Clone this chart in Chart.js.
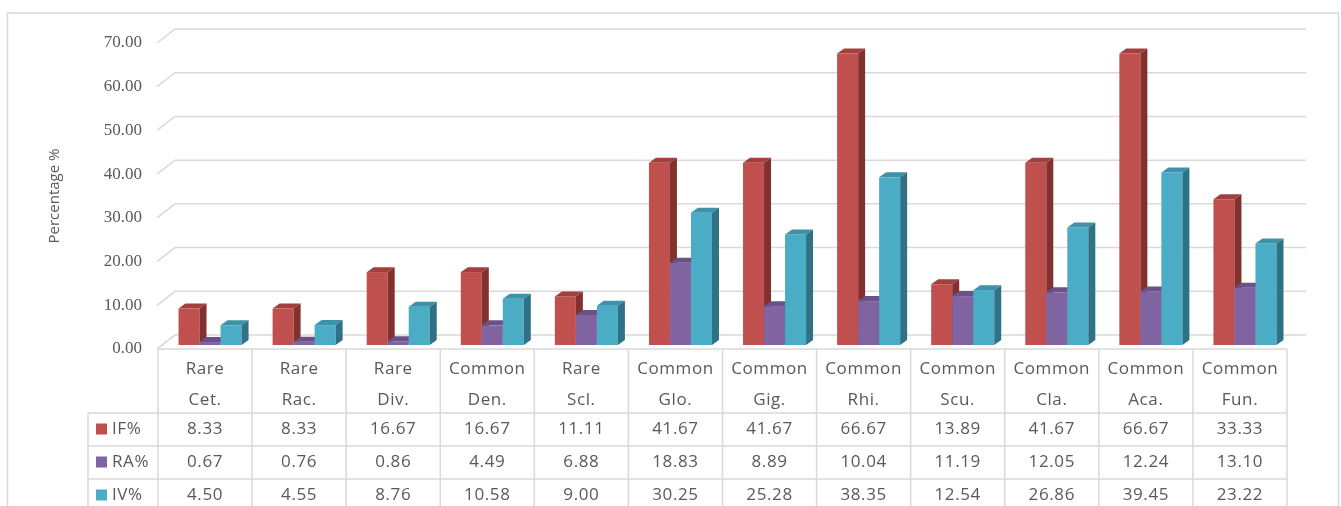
<!DOCTYPE html>
<html>
<head>
<meta charset="utf-8">
<script src="https://cdn.jsdelivr.net/npm/chart.js@4/dist/chart.umd.min.js"></script>
<style>
html,body{margin:0;padding:0;background:#fff;}
#wrap{position:relative;width:1341px;height:506px;}
</style>
</head>
<body>
<div id="wrap"><canvas id="c" width="1341" height="506"></canvas></div>
<script>
const categoryTop = ['Rare','Rare','Rare','Common','Rare','Common','Common','Common','Common','Common','Common','Common'];
const categoryBottom = ['Cet.','Rac.','Div.','Den.','Scl.','Glo.','Gig.','Rhi.','Scu.','Cla.','Aca.','Fun.'];
const seriesNames = ['IF%','RA%','IV%'];
const ifValues = [8.33, 8.33, 16.67, 16.67, 11.11, 41.67, 41.67, 66.67, 13.89, 41.67, 66.67, 33.33];
const raValues = [0.67, 0.76, 0.86, 4.49, 6.88, 18.83, 8.89, 10.04, 11.19, 12.05, 12.24, 13.10];
const ivValues = [4.50, 4.55, 8.76, 10.58, 9.00, 30.25, 25.28, 38.35, 12.54, 26.86, 39.45, 23.22];
const yTicks = [0, 10, 20, 30, 40, 50, 60, 70];

const frontColors = ['#C0504D', '#8064A2', '#4BACC6'];
const topColors = ['#A33F3C', '#6A5289', '#3D92A9'];
const sideColors = ['#83312F', '#574370', '#2F7285'];

const labels = categoryTop.map((t, i) => [t, categoryBottom[i]]);
const GRID = '#D9D9D9';
const TEXT = '#595959';
const DEPTH_DX = 18, DEPTH_DY = -14;  // wall depth
const BAR_DX = 5, BAR_DY = -4;        // bar position inside depth
const BD_X = 7, BD_Y = -5;            // bar depth

const threeD = {
  id: 'threeD',
  beforeDatasetsDraw(chart) {
    const ctx = chart.ctx;
    const ca = chart.chartArea;
    const ys = chart.scales.y;
    ctx.save();
    ctx.strokeStyle = GRID;
    ctx.lineWidth = 1.5;
    yTicks.forEach(v => {
      const y = ys.getPixelForValue(v);
      ctx.beginPath();
      ctx.moveTo(ca.left - 1, y);
      ctx.lineTo(ca.left + DEPTH_DX - 1, y + DEPTH_DY);
      ctx.lineTo(1306, y + DEPTH_DY);
      ctx.stroke();
    });
    ctx.restore();
    const metas = [0, 1, 2].map(i => chart.getDatasetMeta(i));
    const n = labels.length;
    for (let j = 0; j < n; j++) {
      for (let i = 0; i < 3; i++) {
        const el = metas[i].data[j];
        const w = el.width;
        const x0 = el.x - w / 2 + BAR_DX, x1 = x0 + w;
        const yt = el.y + BAR_DY, yb = el.base + BAR_DY;
        ctx.save();
        ctx.fillStyle = frontColors[i];
        ctx.fillRect(x0, yt, w, yb - yt);
        ctx.fillStyle = topColors[i];
        ctx.beginPath();
        ctx.moveTo(x0, yt);
        ctx.lineTo(x0 + BD_X, yt + BD_Y);
        ctx.lineTo(x1 + BD_X, yt + BD_Y);
        ctx.lineTo(x1, yt);
        ctx.closePath();
        ctx.fill();
        ctx.fillStyle = sideColors[i];
        ctx.beginPath();
        ctx.moveTo(x1, yt);
        ctx.lineTo(x1 + BD_X, yt + BD_Y);
        ctx.lineTo(x1 + BD_X, yb + BD_Y);
        ctx.lineTo(x1, yb);
        ctx.closePath();
        ctx.fill();
        ctx.restore();
      }
    }
    return false;
  }
};

const dataTable = {
  id: 'dataTable',
  afterDraw(chart) {
    const ctx = chart.ctx;
    const ca = chart.chartArea;
    const xs = chart.scales.x;
    const n = labels.length;
    const colW = (ca.right - ca.left) / n;
    const top = ca.bottom;
    const hdrBottom = 413;
    const rowH = 33;
    const leftX = 88;
    const bottom = 520;
    ctx.save();
    ctx.strokeStyle = GRID;
    ctx.lineWidth = 1.5;
    ctx.strokeRect(7.5, 13, 1331, 520);
    ctx.beginPath();
    ctx.moveTo(ca.left, top); ctx.lineTo(ca.right, top);
    for (let r = 0; r < 3; r++) {
      const y = hdrBottom + r * rowH;
      ctx.moveTo(leftX, y); ctx.lineTo(ca.right, y);
    }
    for (let j = 0; j <= n; j++) {
      const x = ca.left + j * colW;
      ctx.moveTo(x, top); ctx.lineTo(x, bottom);
    }
    ctx.moveTo(leftX, hdrBottom); ctx.lineTo(leftX, bottom);
    ctx.moveTo(ca.left - 1, top);
    ctx.lineTo(ca.left + DEPTH_DX - 1, top + DEPTH_DY);
    ctx.stroke();

    ctx.fillStyle = TEXT;
    ctx.font = '17px "Open Sans"';
    ctx.letterSpacing = '0.6px';
    ctx.textAlign = 'center';
    ctx.textBaseline = 'middle';
    for (let j = 0; j < n; j++) {
      const cx = xs.getPixelForValue(j);
      ctx.fillText(categoryTop[j], cx, 369);
      ctx.fillText(categoryBottom[j], cx, 400);
    }
    const rows = [ifValues, raValues, ivValues];
    rows.forEach((vals, r) => {
      const cy = hdrBottom + r * rowH + rowH / 2;
      vals.forEach((v, j) => {
        ctx.fillText(v.toFixed(2), xs.getPixelForValue(j), cy);
      });
      ctx.fillStyle = frontColors[r];
      ctx.fillRect(96, cy - 6, 11, 11);
      ctx.fillStyle = TEXT;
      ctx.textAlign = 'left';
      ctx.fillText(seriesNames[r], 112, cy);
      ctx.textAlign = 'center';
    });
    ctx.restore();
  }
};

new Chart(document.getElementById('c'), {
  type: 'bar',
  data: {
    labels: labels,
    datasets: [
      { label: seriesNames[0], data: ifValues, backgroundColor: frontColors[0] },
      { label: seriesNames[1], data: raValues, backgroundColor: frontColors[1] },
      { label: seriesNames[2], data: ivValues, backgroundColor: frontColors[2] }
    ]
  },
  options: {
    responsive: false,
    animation: false,
    events: [],
    layout: { padding: { left: 40, right: 54, top: 43, bottom: 157 } },
    plugins: { legend: { display: false }, tooltip: { enabled: false } },
    datasets: { bar: { categoryPercentage: 0.67, barPercentage: 1.0 } },
    scales: {
      x: { display: false },
      y: {
        min: 0, max: 70,
        afterFit(scale) { scale.width = 118; },
        afterBuildTicks(scale) { scale.ticks = yTicks.map(v => ({ value: v })); },
        grid: { display: false, drawTicks: false },
        border: { display: false },
        ticks: {
          padding: 16,
          color: TEXT,
          font: { family: '"Liberation Serif"', size: 17 },
          callback: v => Number(v).toFixed(2)
        },
        title: {
          display: true,
          text: 'Percentage %',
          color: TEXT,
          font: { family: '"Open Sans"', size: 15 },
          padding: { top: 6, bottom: 0 }
        }
      }
    }
  },
  plugins: [threeD, dataTable]
});
</script>
</body>
</html>
